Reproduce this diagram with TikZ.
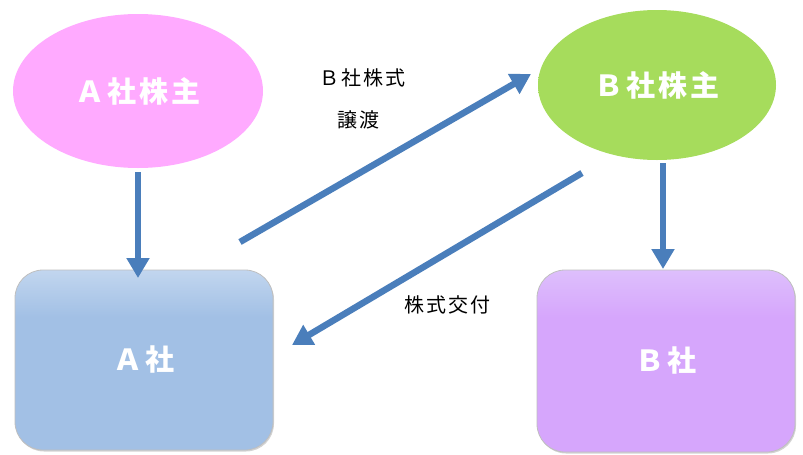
\documentclass[tikz,border=0pt]{standalone}
\usepackage{fontspec}
\setmainfont{Noto Sans CJK JP}
\newfontfamily\wideface[LetterSpace=10]{Noto Sans CJK JP}
\usetikzlibrary{shapes.geometric,arrows.meta,shadows}
\definecolor{arrowblue}{HTML}{4A7EBB}
\definecolor{amain}{HTML}{A2C0E5}
\definecolor{alight}{HTML}{E6EFFA}
\definecolor{bmain}{HTML}{D6A6FC}
\definecolor{blight}{HTML}{E6DCFC}
\definecolor{pinkmain}{HTML}{FFAAFF}
\definecolor{pinklight}{HTML}{FFD0FF}
\definecolor{greenmain}{HTML}{A6DC5C}
\definecolor{greenlight}{HTML}{C8EC98}
\pgfdeclareverticalshading{shadeA}{100bp}{color(0bp)=(amain); color(62bp)=(amain); color(90bp)=(alight); color(100bp)=(alight)}
\pgfdeclareverticalshading{shadeB}{100bp}{color(0bp)=(bmain); color(62bp)=(bmain); color(90bp)=(blight); color(100bp)=(blight)}
\pgfdeclareverticalshading{shadeP}{100bp}{color(0bp)=(pinkmain); color(80bp)=(pinkmain); color(100bp)=(pinklight)}
\pgfdeclareverticalshading{shadeG}{100bp}{color(0bp)=(greenmain); color(80bp)=(greenmain); color(100bp)=(greenlight)}
\tikzset{
  owner/.style={ellipse, inner sep=0pt, text=white, font=\wideface\bfseries\fontsize{29}{32}\selectfont},
  company/.style={rectangle, rounded corners=28pt, inner sep=0pt, text=white,
    font=\wideface\bfseries\fontsize{29}{32}\selectfont, draw=black!25, line width=0.8pt,
    drop shadow={shadow xshift=1pt, shadow yshift=-1.5pt, opacity=0.35}},
  flow/.style={draw=arrowblue, line width=6.5pt, -{Triangle[length=20pt,width=22pt]}},
  lbl/.style={font=\wideface\fontsize{20}{23}\selectfont, text=black}
}
\begin{document}
\begin{tikzpicture}[x=1pt,y=-1pt]
\useasboundingbox (0,0) rectangle (803,455);
\node[owner, minimum width=250pt, minimum height=154pt, shading=shadeP] (ash) at (138,91) {Ａ社株主};
\node[owner, minimum width=238pt, minimum height=150pt, shading=shadeG] (bsh) at (657,85) {Ｂ社株主};
\node[company, minimum width=258pt, minimum height=180pt, shading=shadeA] (aco) at (144,360) {Ａ社};
\node[company, minimum width=258pt, minimum height=182pt, shading=shadeB] (bco) at (666,361) {Ｂ社};
\coordinate (d1s) at (240,242);
\coordinate (d1e) at (531,74);
\coordinate (d2s) at (582,173);
\coordinate (d2e) at (292,345);
\draw[flow] (ash.south) ++(0,4) -- (138,278);
\draw[flow] (663,163) -- (663,269);
\draw[flow] (d1s) -- (d1e);
\draw[flow] (d2s) -- (d2e);
\node[lbl] (l1) at (362,78) {Ｂ社株式};
\node[lbl] (l2) at (358,120) {譲渡};
\node[lbl] (l3) at (447,305) {株式交付};
\end{tikzpicture}
\end{document}
